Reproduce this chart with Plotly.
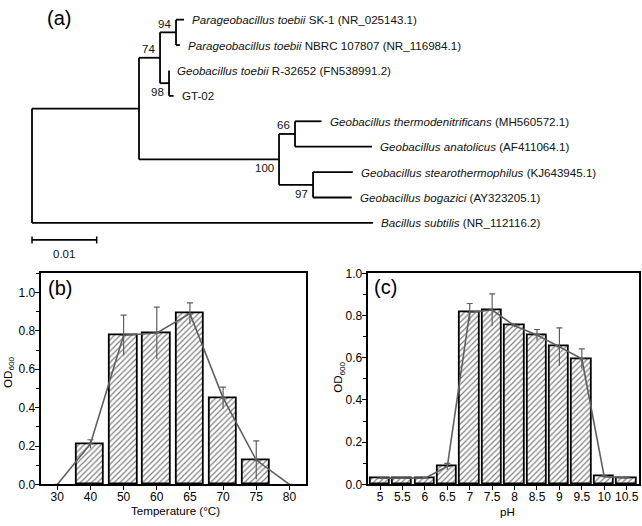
import plotly.graph_objects as go

# ---------------- DATA ----------------
# (a) phylogenetic tree: node, parent, branch length (substitutions/site)
tree_nodes = ["root", "A", "n74", "n94", "SK1", "NBRC", "n98", "R32652", "GT02",
              "n100", "n66", "thermo", "anat", "n97", "stearo", "boga", "subtilis"]
tree_parents = [None, "root", "A", "n74", "n94", "n94", "n74", "n98", "n98",
                "A", "n100", "n66", "n66", "n100", "n97", "n97", "root"]
branch_lengths = [0.0, 0.01654, 0.00325, 0.00247, 0.00124, 0.0006, 0.00139, 0.0, 0.0007,
                  0.02164, 0.00247, 0.0041, 0.0119, 0.00526, 0.00614, 0.00598, 0.0527]
leaf_order = ["SK1", "NBRC", "R32652", "GT02", "thermo", "anat", "stearo", "boga", "subtilis"]
leaf_labels = [
    "<i>Parageobacillus toebii</i> SK-1 (NR_025143.1)",
    "<i>Parageobacillus toebii</i> NBRC 107807 (NR_116984.1)",
    "<i>Geobacillus toebii</i> R-32652 (FN538991.2)",
    "GT-02",
    "<i>Geobacillus thermodenitrificans</i> (MH560572.1)",
    "<i>Geobacillus anatolicus</i> (AF411064.1)",
    "<i>Geobacillus stearothermophilus</i> (KJ643945.1)",
    "<i>Geobacillus bogazici</i> (AY323205.1)",
    "<i>Bacillus subtilis</i> (NR_112116.2)",
]
bootstrap_nodes = ["n74", "n94", "n98", "n66", "n100", "n97"]
bootstrap_values = [74, 94, 98, 66, 100, 97]
scale_bar_length = 0.01

# (b) temperature
temp_labels = ["30", "40", "50", "60", "65", "70", "75", "80"]
temp_od = [0.0, 0.211, 0.777, 0.789, 0.890, 0.451, 0.127, 0.0]
temp_err = [0.0, 0.022, 0.105, 0.135, 0.056, 0.056, 0.100, 0.0]

# (c) pH
ph_labels = ["5", "5.5", "6", "6.5", "7", "7.5", "8", "8.5", "9", "9.5", "10", "10.5"]
ph_od = [0.030, 0.030, 0.030, 0.085, 0.815, 0.826, 0.752, 0.708, 0.652, 0.595, 0.037, 0.031]
ph_err = [0.0, 0.0, 0.0, 0.015, 0.042, 0.077, 0.008, 0.026, 0.090, 0.047, 0.004, 0.005]

# ---------------- LAYOUT CONSTANTS ----------------
W, H = 642, 526
FONT = "Liberation Sans, Arial, sans-serif"
GREY = "#5f5f5f"
PX_PER_UNIT = 6470.0     # tree x scale
ROOT_PX = 32.0
ROW0_PX, ROW_PX = 13.0, 26.1
TREE_BOTTOM_PX = 266.0
boot_side = ["above", "above", "below", "above", "below", "below"]

# ---------------- TREE GEOMETRY ----------------
par = dict(zip(tree_nodes, tree_parents))
blen = dict(zip(tree_nodes, branch_lengths))
children = {n: [] for n in tree_nodes}
for n, p in zip(tree_nodes, tree_parents):
    if p is not None:
        children[p].append(n)

xpos = {}
def set_x(n, x):
    xpos[n] = x
    for c in children[n]:
        set_x(c, x + blen[c])
set_x("root", 0.0)

ypos = {n: i for i, n in enumerate(leaf_order)}
def get_y(n):
    if n in ypos:
        return ypos[n]
    ys = [get_y(c) for c in children[n]]
    ypos[n] = (min(ys) + max(ys)) / 2.0
    return ypos[n]
get_y("root")

seg_x, seg_y = [], []
for n in tree_nodes:
    p = par[n]
    if p is not None:
        seg_x += [xpos[p], xpos[n], None]
        seg_y += [ypos[n], ypos[n], None]
    if children[n]:
        cy = [ypos[c] for c in children[n]]
        seg_x += [xpos[n], xpos[n], None]
        seg_y += [min(cy), max(cy), None]

fig = go.Figure()

fig.add_trace(go.Scatter(x=seg_x, y=seg_y, mode="lines",
                         line=dict(color="black", width=1.8),
                         xaxis="x3", yaxis="y3", hoverinfo="skip", showlegend=False))

sb_row = 8.67
fig.add_trace(go.Scatter(x=[0, scale_bar_length], y=[sb_row, sb_row], mode="lines+markers",
                         marker=dict(symbol="line-ns", size=5, line=dict(color="black", width=1.5)),
                         line=dict(color="black", width=1.8),
                         xaxis="x3", yaxis="y3", hoverinfo="skip", showlegend=False))

annotations = []
for n, lab in zip(leaf_order, leaf_labels):
    annotations.append(dict(x=xpos[n], y=ypos[n], xref="x3", yref="y3", text=lab,
                            showarrow=False, xanchor="left", yanchor="middle", xshift=6,
                            font=dict(family=FONT, size=11.6, color="#111")))
for n, v, side in zip(bootstrap_nodes, bootstrap_values, boot_side):
    annotations.append(dict(x=xpos[n], y=ypos[n], xref="x3", yref="y3", text=str(v),
                            showarrow=False, xanchor="right", yanchor="middle", xshift=-3,
                            yshift=8.5 if side == "above" else -9,
                            font=dict(family=FONT, size=11.5, color="#111")))
annotations.append(dict(x=scale_bar_length / 2, y=9.23, xref="x3", yref="y3", text="0.01",
                        showarrow=False, xanchor="center", yanchor="middle",
                        font=dict(family=FONT, size=11.5, color="#111")))

# panel letters
for txt, px, py in [("(a)", 45, 11), ("(b)", 46, 289), ("(c)", 372, 288)]:
    annotations.append(dict(x=px / W, y=1 - py / H, xref="paper", yref="paper", text=txt,
                            showarrow=False, xanchor="left", yanchor="middle",
                            font=dict(family=FONT, size=20, color="black")))

# axis titles
for txt, px, py, ang in [("OD<sub>600</sub>", 9, 376, -90), ("OD<sub>600</sub>", 339, 381, -90),
                         ("Temperature (°C)", 176, 517, 0), ("pH", 507, 518, 0)]:
    annotations.append(dict(x=px / W, y=1 - py / H, xref="paper", yref="paper", text=txt,
                            textangle=ang, showarrow=False, xanchor="center", yanchor="middle",
                            borderpad=0,
                            font=dict(family=FONT, size=11.6, color="black")))

# ---------------- BAR PANELS ----------------
bar_marker = dict(color="white", line=dict(color="black", width=1.8),
                  pattern=dict(shape="/", fgcolor="black", bgcolor="white", size=4, solidity=0.3))

def add_panel(cats, vals, errs, xa, ya, width):
    bar_y = [v if v > 0 else None for v in vals]
    fig.add_trace(go.Bar(x=cats, y=bar_y, width=width, marker=bar_marker,
                         xaxis=xa, yaxis=ya, showlegend=False, hoverinfo="skip"))
    fig.add_trace(go.Scatter(x=cats, y=vals, mode="lines", line=dict(color=GREY, width=1.6),
                             error_y=dict(type="data", symmetric=False, array=errs,
                                          arrayminus=[0] * len(errs), color=GREY,
                                          thickness=1.2, width=3),
                             xaxis=xa, yaxis=ya, showlegend=False, hoverinfo="skip"))
    fig.add_trace(go.Scatter(x=cats, y=vals, mode="none",
                             error_y=dict(type="data", symmetric=False, array=[0] * len(errs),
                                          arrayminus=errs, color=GREY, thickness=1.2, width=0),
                             xaxis=xa, yaxis=ya, showlegend=False, hoverinfo="skip"))

add_panel(temp_labels, temp_od, temp_err, "x", "y", 0.82)
add_panel(ph_labels, ph_od, ph_err, "x2", "y2", 0.86)

ydom = [1 - 490.5 / H, 1 - 273.6 / H]
axis_common = dict(showline=True, linecolor="black", linewidth=2, mirror=True,
                   ticks="outside", tickcolor="black", tickwidth=1.3, ticklen=4,
                   showgrid=False, zeroline=False,
                   tickfont=dict(family=FONT, size=12, color="black"))
xaxis_extra = dict(ticklabelstandoff=-4)
yaxis_extra = dict(ticklabelstandoff=-3)

fig.update_layout(
    width=W, height=H, margin=dict(l=0, r=0, t=0, b=0),
    paper_bgcolor="white", plot_bgcolor="rgba(0,0,0,0)",
    bargap=0, showlegend=False,
    xaxis=dict(domain=[40.7 / W, 306 / W], type="category", range=[-0.5, 7.5],
               anchor="y", **axis_common, **xaxis_extra),
    yaxis=dict(domain=ydom, range=[0, 1.1], tickvals=[0, 0.2, 0.4, 0.6, 0.8, 1.0],
               tickformat=".1f", anchor="x",
               minor=dict(dtick=0.1, tick0=0, ticks="outside", ticklen=2.5, tickcolor="black"),
               **axis_common, **yaxis_extra),
    xaxis2=dict(domain=[367.7 / W, 639 / W], type="category", range=[-0.55, 11.55],
                anchor="y2", **axis_common, **xaxis_extra),
    yaxis2=dict(domain=ydom, range=[0, 1.0], tickvals=[0, 0.2, 0.4, 0.6, 0.8, 1.0],
                tickformat=".1f", anchor="x2",
                minor=dict(dtick=0.1, tick0=0, ticks="outside", ticklen=2.5, tickcolor="black"),
                **axis_common, **yaxis_extra),
    xaxis3=dict(domain=[0, 1], range=[-ROOT_PX / PX_PER_UNIT, (W - ROOT_PX) / PX_PER_UNIT],
                visible=False, anchor="y3"),
    yaxis3=dict(domain=[1 - TREE_BOTTOM_PX / H, 1],
                range=[(TREE_BOTTOM_PX - ROW0_PX) / ROW_PX, -ROW0_PX / ROW_PX],
                visible=False, anchor="x3"),
    annotations=annotations,
)

fig.write_html("out.html", config={"displayModeBar": False},
               post_script="document.body.style.margin='0';")
